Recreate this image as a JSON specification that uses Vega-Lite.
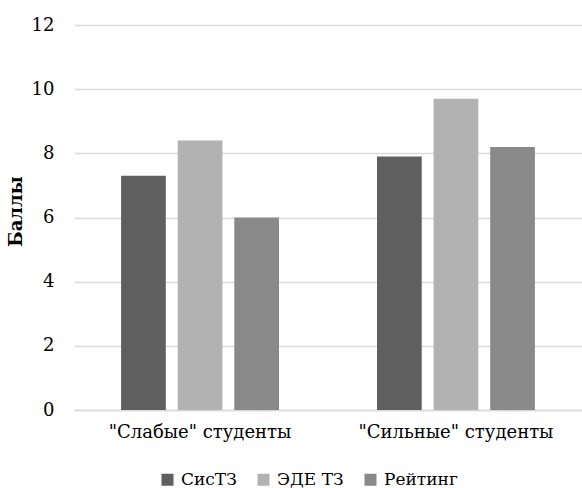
{
  "$schema": "https://vega.github.io/schema/vega-lite/v6.json",
  "width": 508,
  "height": 385,
  "autosize": {"type": "none"},
  "padding": {"left": 74, "top": 25, "right": 0, "bottom": 78},
  "background": "white",
  "config": {
    "font": "DejaVu Serif",
    "view": {"stroke": null},
    "axis": {"labelFont": "DejaVu Serif", "titleFont": "DejaVu Serif"},
    "legend": {"labelFont": "DejaVu Serif"}
  },
  "data": {
    "values": [
      {"group": "\"Слабые\" студенты", "series": "СисТЗ", "value": 7.3},
      {"group": "\"Слабые\" студенты", "series": "ЭДЕ ТЗ", "value": 8.4},
      {"group": "\"Слабые\" студенты", "series": "Рейтинг", "value": 6.0},
      {"group": "\"Сильные\" студенты", "series": "СисТЗ", "value": 7.9},
      {"group": "\"Сильные\" студенты", "series": "ЭДЕ ТЗ", "value": 9.7},
      {"group": "\"Сильные\" студенты", "series": "Рейтинг", "value": 8.2}
    ]
  },
  "mark": {"type": "bar"},
  "encoding": {
    "x": {
      "field": "group",
      "type": "nominal",
      "sort": null,
      "scale": {"paddingInner": 0.383, "paddingOuter": 0.184},
      "axis": {
        "title": null,
        "labelAngle": 0,
        "labelFontSize": 18,
        "labelLimit": 0,
        "labelColor": "#000000",
        "labelPadding": 13,
        "ticks": false,
        "domainColor": "#d9d9d9",
        "domainWidth": 1.5
      }
    },
    "xOffset": {
      "field": "series",
      "type": "nominal",
      "sort": ["СисТЗ", "ЭДЕ ТЗ", "Рейтинг"],
      "scale": {"paddingInner": 0.21, "paddingOuter": 0}
    },
    "y": {
      "field": "value",
      "type": "quantitative",
      "scale": {"domain": [0, 12]},
      "axis": {
        "title": "Баллы",
        "titleFontSize": 18,
        "titleFontWeight": "bold",
        "titleColor": "#000000",
        "titlePadding": 6,
        "titleY": 186,
        "values": [0, 2, 4, 6, 8, 10, 12],
        "labelFontSize": 18,
        "labelColor": "#000000",
        "labelPadding": 20,
        "ticks": false,
        "domain": false,
        "gridColor": "#d9d9d9",
        "gridWidth": 1.5
      }
    },
    "color": {
      "field": "series",
      "type": "nominal",
      "scale": {
        "domain": ["СисТЗ", "ЭДЕ ТЗ", "Рейтинг"],
        "range": ["#5f5f5f", "#b2b2b2", "#898989"]
      },
      "legend": {
        "title": null,
        "orient": "none",
        "direction": "horizontal",
        "legendX": 85,
        "legendY": 446,
        "symbolType": "square",
        "symbolSize": 144,
        "symbolStrokeWidth": 0,
        "labelFontSize": 17,
        "labelColor": "#000000",
        "labelOffset": 5,
        "columnPadding": 18
      }
    }
  }
}
